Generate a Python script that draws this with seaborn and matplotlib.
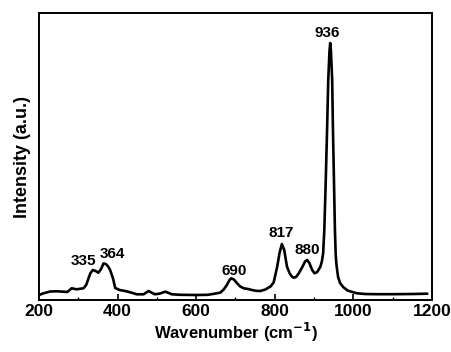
import matplotlib
matplotlib.use("Agg")
import matplotlib.pyplot as plt
import seaborn as sns
import pandas as pd
from matplotlib.ticker import MultipleLocator

# Raman spectrum (arbitrary units)
wavenumber = [200, 210, 228, 245, 262, 272, 283, 296, 313, 320, 326, 331, 337, 344, 351, 358,
              364, 370, 376, 381, 388, 394, 405, 419, 434, 449, 466, 473, 479, 486, 495,
              508, 521, 530, 538, 560, 601, 630, 661, 670, 678, 684, 689, 696, 704, 712,
              721, 732, 742, 752, 763, 776, 789, 797, 806, 812, 818, 824, 831, 838, 844,
              848, 854, 861, 870, 877, 882, 888, 895, 901, 908, 916, 920, 923, 926, 929,
              933, 936, 939, 941, 943, 946, 948, 951, 953, 955, 957, 961, 966, 974, 985,
              1000, 1009, 1030, 1060, 1100, 1150, 1188]
intensity = [5.0, 6.5, 8.5, 8.7, 8.3, 8.0, 11.7, 10.7, 11.7, 15.0, 21.7, 27.0, 30.0, 29.0, 27.3, 31.0,
             36.5, 36.0, 33.5, 30.0, 22.0, 12.0, 10.0, 9.0, 7.5, 5.7, 5.7, 7.5, 9.0, 7.5, 5.7,
             6.5, 8.3, 7.0, 5.7, 5.2, 5.0, 5.2, 7.3, 10.5, 15.0, 19.5, 21.7, 20.5, 16.7, 13.5,
             11.7, 11.0, 10.0, 9.2, 9.0, 10.5, 13.5, 17.5, 33.0, 47.0, 56.0, 50.0, 33.3, 26.5, 23.3,
             22.3, 23.0, 26.7, 33.0, 38.5, 40.0, 37.0, 30.0, 26.7, 28.0, 33.3, 39.0, 46.7, 70.0, 110.0,
             170.0, 220.0, 248.0, 257.0, 248.0, 220.0, 170.0, 110.0, 70.0, 45.0, 35.0, 23.0, 17.0, 13.0, 9.5,
             7.7, 6.7, 6.0, 5.8, 5.8, 6.0, 6.3]

peak_labels = ["335", "364", "690", "817", "880", "936"]
label_x = [314, 387, 697, 817, 882, 934]
label_y = [39, 46, 29, 67, 50, 267]

df = pd.DataFrame({"wavenumber": wavenumber, "intensity": intensity})

sns.set_theme(style="white")
plt.rcParams["font.family"] = ["Liberation Sans", "DejaVu Sans"]
plt.rcParams["font.weight"] = "bold"
plt.rcParams["text.color"] = "black"
plt.rcParams["axes.labelcolor"] = "black"
plt.rcParams["xtick.color"] = "black"
plt.rcParams["ytick.color"] = "black"

fig = plt.figure(figsize=(4.51, 3.52), dpi=100)
ax = fig.add_axes([39 / 451, 1 - 300 / 352, (432 - 39) / 451, (300 - 13) / 352])

sns.lineplot(data=df, x="wavenumber", y="intensity", ax=ax, color="black",
             linewidth=1.9, sort=False)
ax.lines[0].set_solid_joinstyle("round")

for lab, x, y in zip(peak_labels, label_x, label_y):
    ax.text(x, y, lab, ha="center", va="center", fontsize=11, fontweight="bold",
            color="black")

ax.set_xlim(200, 1200)
ax.set_ylim(0, 287)
ax.xaxis.set_major_locator(MultipleLocator(200))
ax.xaxis.set_minor_locator(MultipleLocator(100))
ax.set_yticks([])
ax.tick_params(axis="x", which="major", direction="in", length=4, width=1.2,
               labelsize=12.5, pad=3, bottom=True, top=False, colors="black")
ax.tick_params(axis="x", which="minor", direction="in", length=2.5, width=1.0,
               bottom=True, top=False, colors="black")
for lbl in ax.get_xticklabels():
    lbl.set_fontweight("bold")
for s in ax.spines.values():
    s.set_linewidth(1.4)
    s.set_color("black")

ax.set_xlabel("Wavenumber (cm$^{\\mathbf{-1}}$)", fontsize=12, fontweight="bold",
              labelpad=1, color="black")
ax.set_ylabel("Intensity (a.u.)", fontsize=13, fontweight="bold", labelpad=6,
              color="black")

fig.savefig("out.png", dpi=100)
